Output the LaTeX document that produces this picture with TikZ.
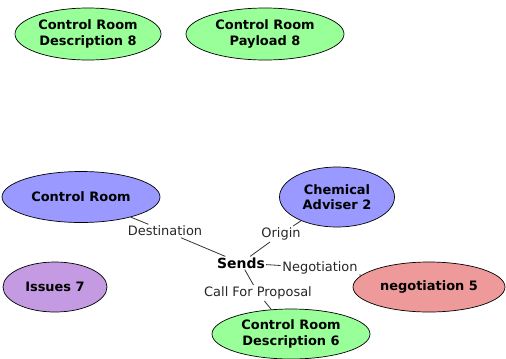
\documentclass[tikz,border=0pt]{standalone}
\usepackage{fontspec}
\setmainfont{DejaVu Sans}
\usetikzlibrary{shapes.geometric}
\definecolor{cgreen}{HTML}{99FF99}
\definecolor{cblue}{HTML}{9999FF}
\definecolor{cpurple}{HTML}{C49BE3}
\definecolor{cred}{HTML}{EE9A9A}
\tikzset{
  concept/.style={ellipse, draw=black, line width=0.7bp, inner sep=0pt, align=center,
    font=\fontsize{13}{15.5}\selectfont\bfseries},
  rel/.style={inner sep=1.5bp, font=\fontsize{13}{15}\selectfont, text=black!85},
  link/.style={draw=black!80, line width=0.8bp}
}
\begin{document}
\begin{tikzpicture}[x=1bp,y=-1bp]
\useasboundingbox (0,0) rectangle (506,358);
\node[concept, fill=cgreen, minimum width=146bp, minimum height=52bp] (crd8) at (88,34) {Control Room\\Description 8};
\node[concept, fill=cgreen, minimum width=158bp, minimum height=52bp] (crp8) at (265,34) {Control Room\\Payload 8};
\node[concept, fill=cblue, minimum width=158bp, minimum height=51bp] (cr) at (81,197) {Control Room};
\node[concept, fill=cblue, minimum width=115bp, minimum height=60bp] (chem) at (337,197) {Chemical\\Adviser 2};
\node[concept, fill=cpurple, minimum width=104bp, minimum height=50bp] (iss) at (55,287) {Issues 7};
\node[concept, fill=cred, minimum width=152bp, minimum height=50bp] (neg5) at (429,287) {negotiation 5};
\node[concept, fill=cgreen, minimum width=158bp, minimum height=50bp] (crd6) at (291,334) {Control Room\\Description 6};
\node[inner sep=1bp, font=\fontsize{14}{16}\selectfont\bfseries] (sends) at (241,263) {Sends};
\node[rel] (dest) at (165,231) {Destination};
\node[rel] (orig) at (281,234) {Origin};
\node[rel] (nego) at (320,268) {Negotiation};
\node[rel] (cfp) at (258,293) {Call For Proposal};
\draw[link] (cr) -- (dest);
\draw[link] (dest) -- (sends);
\draw[link] (sends) -- (orig);
\draw[link] (orig) -- (chem);
\draw[link] (sends) -- (nego);
\draw[link] (nego) -- (neg5);
\draw[link] (sends) -- (cfp);
\draw[link] (cfp) -- (crd6);
\end{tikzpicture}
\end{document}
